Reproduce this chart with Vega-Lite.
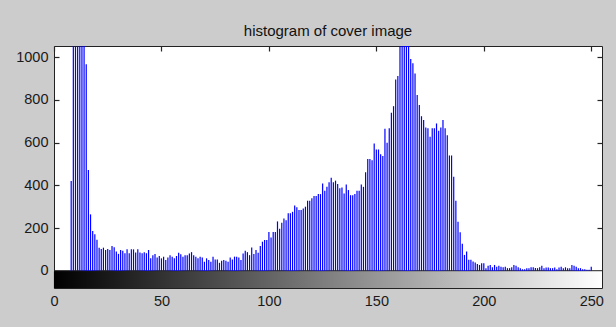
{
  "$schema": "https://vega.github.io/schema/vega-lite/v6.json",
  "width": 548,
  "height": 242,
  "autosize": {"type": "none"},
  "padding": {"left": 54, "top": 46, "right": 14, "bottom": 39},
  "background": "#cccccc",
  "title": {"text": "histogram of cover image", "font": "Liberation Sans", "fontSize": 15, "fontWeight": "normal", "color": "#111111", "anchor": "middle", "baseline": "alphabetic", "offset": 0, "dy": 6},
  "config": {
    "view": {"fill": "white", "stroke": "#222222", "strokeWidth": 1},
    "axis": {"domain": false, "grid": false, "labelFont": "Liberation Sans", "labelFontSize": 14.5, "labelColor": "#1a1a1a", "labelFlush": false, "tickColor": "#262626", "tickWidth": 1.2, "tickOpacity": 1, "zindex": 2, "title": null, "format": "d", "minExtent": 0}
  },
  "datasets": {
    "hist": [
      {"level": 8, "count": 420}, {"level": 9, "count": 1800}, {"level": 10, "count": 2500}, {"level": 11, "count": 3000}, {"level": 12, "count": 2600}, {"level": 13, "count": 2000}, {"level": 14, "count": 1400},
      {"level": 15, "count": 967}, {"level": 16, "count": 472}, {"level": 17, "count": 264}, {"level": 18, "count": 186}, {"level": 19, "count": 171}, {"level": 20, "count": 145},
      {"level": 21, "count": 108}, {"level": 22, "count": 102}, {"level": 23, "count": 108}, {"level": 24, "count": 97}, {"level": 25, "count": 102}, {"level": 26, "count": 97}, {"level": 27, "count": 116}, {"level": 28, "count": 110}, {"level": 29, "count": 90}, {"level": 30, "count": 79},
      {"level": 31, "count": 97}, {"level": 32, "count": 94}, {"level": 33, "count": 82}, {"level": 34, "count": 100}, {"level": 35, "count": 82}, {"level": 36, "count": 100}, {"level": 37, "count": 100}, {"level": 38, "count": 85}, {"level": 39, "count": 100}, {"level": 40, "count": 85},
      {"level": 41, "count": 82}, {"level": 42, "count": 86}, {"level": 43, "count": 82}, {"level": 44, "count": 97}, {"level": 45, "count": 58}, {"level": 46, "count": 73}, {"level": 47, "count": 78}, {"level": 48, "count": 62}, {"level": 49, "count": 69}, {"level": 50, "count": 58},
      {"level": 51, "count": 66}, {"level": 52, "count": 50}, {"level": 53, "count": 62}, {"level": 54, "count": 73}, {"level": 55, "count": 66}, {"level": 56, "count": 58}, {"level": 57, "count": 69}, {"level": 58, "count": 84}, {"level": 59, "count": 77}, {"level": 60, "count": 66},
      {"level": 61, "count": 73}, {"level": 62, "count": 73}, {"level": 63, "count": 81}, {"level": 64, "count": 87}, {"level": 65, "count": 72}, {"level": 66, "count": 66}, {"level": 67, "count": 58}, {"level": 68, "count": 66}, {"level": 69, "count": 62}, {"level": 70, "count": 42},
      {"level": 71, "count": 58}, {"level": 72, "count": 50}, {"level": 73, "count": 42}, {"level": 74, "count": 66}, {"level": 75, "count": 53}, {"level": 76, "count": 53}, {"level": 77, "count": 37}, {"level": 78, "count": 47}, {"level": 79, "count": 50}, {"level": 80, "count": 47},
      {"level": 81, "count": 42}, {"level": 82, "count": 62}, {"level": 83, "count": 53}, {"level": 84, "count": 66}, {"level": 85, "count": 66}, {"level": 86, "count": 62}, {"level": 87, "count": 50}, {"level": 88, "count": 81}, {"level": 89, "count": 94}, {"level": 90, "count": 87},
      {"level": 91, "count": 73}, {"level": 92, "count": 109}, {"level": 93, "count": 78}, {"level": 94, "count": 97}, {"level": 95, "count": 84}, {"level": 96, "count": 116}, {"level": 97, "count": 136}, {"level": 98, "count": 144}, {"level": 99, "count": 144}, {"level": 100, "count": 181},
      {"level": 101, "count": 156}, {"level": 102, "count": 181}, {"level": 103, "count": 181}, {"level": 104, "count": 231}, {"level": 105, "count": 197}, {"level": 106, "count": 225}, {"level": 107, "count": 245}, {"level": 108, "count": 237}, {"level": 109, "count": 269}, {"level": 110, "count": 269},
      {"level": 111, "count": 276}, {"level": 112, "count": 306}, {"level": 113, "count": 297}, {"level": 114, "count": 284}, {"level": 115, "count": 284}, {"level": 116, "count": 292}, {"level": 117, "count": 300}, {"level": 118, "count": 328}, {"level": 119, "count": 328}, {"level": 120, "count": 339},
      {"level": 121, "count": 350}, {"level": 122, "count": 350}, {"level": 123, "count": 359}, {"level": 124, "count": 359}, {"level": 125, "count": 409}, {"level": 126, "count": 375}, {"level": 127, "count": 393}, {"level": 128, "count": 415}, {"level": 129, "count": 436}, {"level": 130, "count": 415},
      {"level": 131, "count": 422}, {"level": 132, "count": 406}, {"level": 133, "count": 386}, {"level": 134, "count": 390}, {"level": 135, "count": 362}, {"level": 136, "count": 404}, {"level": 137, "count": 378}, {"level": 138, "count": 354}, {"level": 139, "count": 354}, {"level": 140, "count": 359},
      {"level": 141, "count": 375}, {"level": 142, "count": 375}, {"level": 143, "count": 404}, {"level": 144, "count": 393}, {"level": 145, "count": 461}, {"level": 146, "count": 523}, {"level": 147, "count": 523}, {"level": 148, "count": 518}, {"level": 149, "count": 596}, {"level": 150, "count": 568},
      {"level": 151, "count": 568}, {"level": 152, "count": 546}, {"level": 153, "count": 537}, {"level": 154, "count": 665}, {"level": 155, "count": 600}, {"level": 156, "count": 667}, {"level": 157, "count": 740}, {"level": 158, "count": 771}, {"level": 159, "count": 896}, {"level": 160, "count": 913},
      {"level": 161, "count": 1400}, {"level": 162, "count": 1800}, {"level": 163, "count": 2000}, {"level": 164, "count": 1700}, {"level": 165, "count": 1200}, {"level": 166, "count": 992}, {"level": 167, "count": 972}, {"level": 168, "count": 924}, {"level": 169, "count": 823}, {"level": 170, "count": 776},
      {"level": 171, "count": 724}, {"level": 172, "count": 706}, {"level": 173, "count": 671}, {"level": 174, "count": 667}, {"level": 175, "count": 628}, {"level": 176, "count": 667}, {"level": 177, "count": 667}, {"level": 178, "count": 690}, {"level": 179, "count": 656}, {"level": 180, "count": 671},
      {"level": 181, "count": 706}, {"level": 182, "count": 667}, {"level": 183, "count": 635}, {"level": 184, "count": 540}, {"level": 185, "count": 540}, {"level": 186, "count": 440}, {"level": 187, "count": 328}, {"level": 188, "count": 230}, {"level": 189, "count": 180}, {"level": 190, "count": 126},
      {"level": 191, "count": 74}, {"level": 192, "count": 90}, {"level": 193, "count": 51}, {"level": 194, "count": 51}, {"level": 195, "count": 43}, {"level": 196, "count": 38}, {"level": 197, "count": 32}, {"level": 198, "count": 27}, {"level": 199, "count": 35}, {"level": 200, "count": 35},
      {"level": 201, "count": 12}, {"level": 202, "count": 23}, {"level": 203, "count": 27}, {"level": 204, "count": 16}, {"level": 205, "count": 27}, {"level": 206, "count": 19}, {"level": 207, "count": 23}, {"level": 208, "count": 19}, {"level": 209, "count": 16}, {"level": 210, "count": 19},
      {"level": 211, "count": 12}, {"level": 212, "count": 12}, {"level": 213, "count": 16}, {"level": 214, "count": 27}, {"level": 215, "count": 23}, {"level": 216, "count": 16}, {"level": 217, "count": 12}, {"level": 218, "count": 7}, {"level": 219, "count": 7}, {"level": 220, "count": 12},
      {"level": 221, "count": 12}, {"level": 222, "count": 16}, {"level": 223, "count": 16}, {"level": 224, "count": 13}, {"level": 225, "count": 12}, {"level": 226, "count": 16}, {"level": 227, "count": 23}, {"level": 228, "count": 12}, {"level": 229, "count": 15}, {"level": 230, "count": 15},
      {"level": 231, "count": 12}, {"level": 232, "count": 12}, {"level": 233, "count": 15}, {"level": 234, "count": 7}, {"level": 235, "count": 15}, {"level": 236, "count": 19}, {"level": 237, "count": 12}, {"level": 238, "count": 16}, {"level": 239, "count": 12}, {"level": 240, "count": 12},
      {"level": 241, "count": 27}, {"level": 242, "count": 23}, {"level": 243, "count": 19}, {"level": 244, "count": 12}, {"level": 245, "count": 12}, {"level": 246, "count": 7}, {"level": 247, "count": 7}, {"level": 248, "count": 4}, {"level": 249, "count": 4}, {"level": 250, "count": 19}
    ]
  },
  "layer": [
    {
      "data": {"values": [{}]},
      "mark": {"type": "rect", "fill": {"gradient": "linear", "x1": 0, "y1": 0, "x2": 1, "y2": 0, "stops": [{"offset": 0, "color": "#000000"}, {"offset": 1, "color": "#ffffff"}]}},
      "encoding": {
        "x": {"datum": 0, "type": "quantitative", "scale": {"domain": [0, 255], "nice": false, "zero": false}, "axis": {"orient": "top", "values": [0, 50, 100, 150, 200, 250], "labels": false, "ticks": true, "tickSize": 5, "offset": -5, "maxExtent": 0}},
        "x2": {"datum": 255},
        "y": {"datum": -81, "type": "quantitative", "scale": {"domain": [-81, 1053], "nice": false, "zero": false}, "axis": {"orient": "right", "values": [0, 200, 400, 600, 800, 1000], "labels": false, "ticks": true, "tickSize": 5, "offset": -5, "maxExtent": 0}},
        "y2": {"datum": 0}
      }
    },
    {
      "data": {"values": [{}]},
      "mark": {"type": "rule", "color": "#222222", "strokeWidth": 1},
      "encoding": {
        "x": {"datum": 0, "type": "quantitative", "axis": {"orient": "bottom", "values": [0, 50, 100, 150, 200, 250], "ticks": false, "labelPadding": 6}},
        "x2": {"datum": 255},
        "y": {"datum": 0, "type": "quantitative", "axis": {"orient": "left", "values": [0, 200, 400, 600, 800, 1000], "ticks": false, "labelPadding": 6}}
      }
    },
    {
      "data": {"name": "hist"},
      "mark": {"type": "rule", "color": "#0000ff", "strokeWidth": 1.2, "clip": true},
      "encoding": {
        "x": {"field": "level", "type": "quantitative", "axis": {"orient": "top", "values": [0, 50, 100, 150, 200, 250], "labels": false, "ticks": true, "tickSize": 17, "offset": -242, "maxExtent": 0}},
        "y": {"field": "count", "type": "quantitative", "axis": {"orient": "right", "values": [0, 200, 400, 600, 800, 1000], "labels": false, "ticks": true, "tickSize": 5, "offset": -548, "maxExtent": 0}},
        "y2": {"datum": 0}
      }
    }
  ]
}
